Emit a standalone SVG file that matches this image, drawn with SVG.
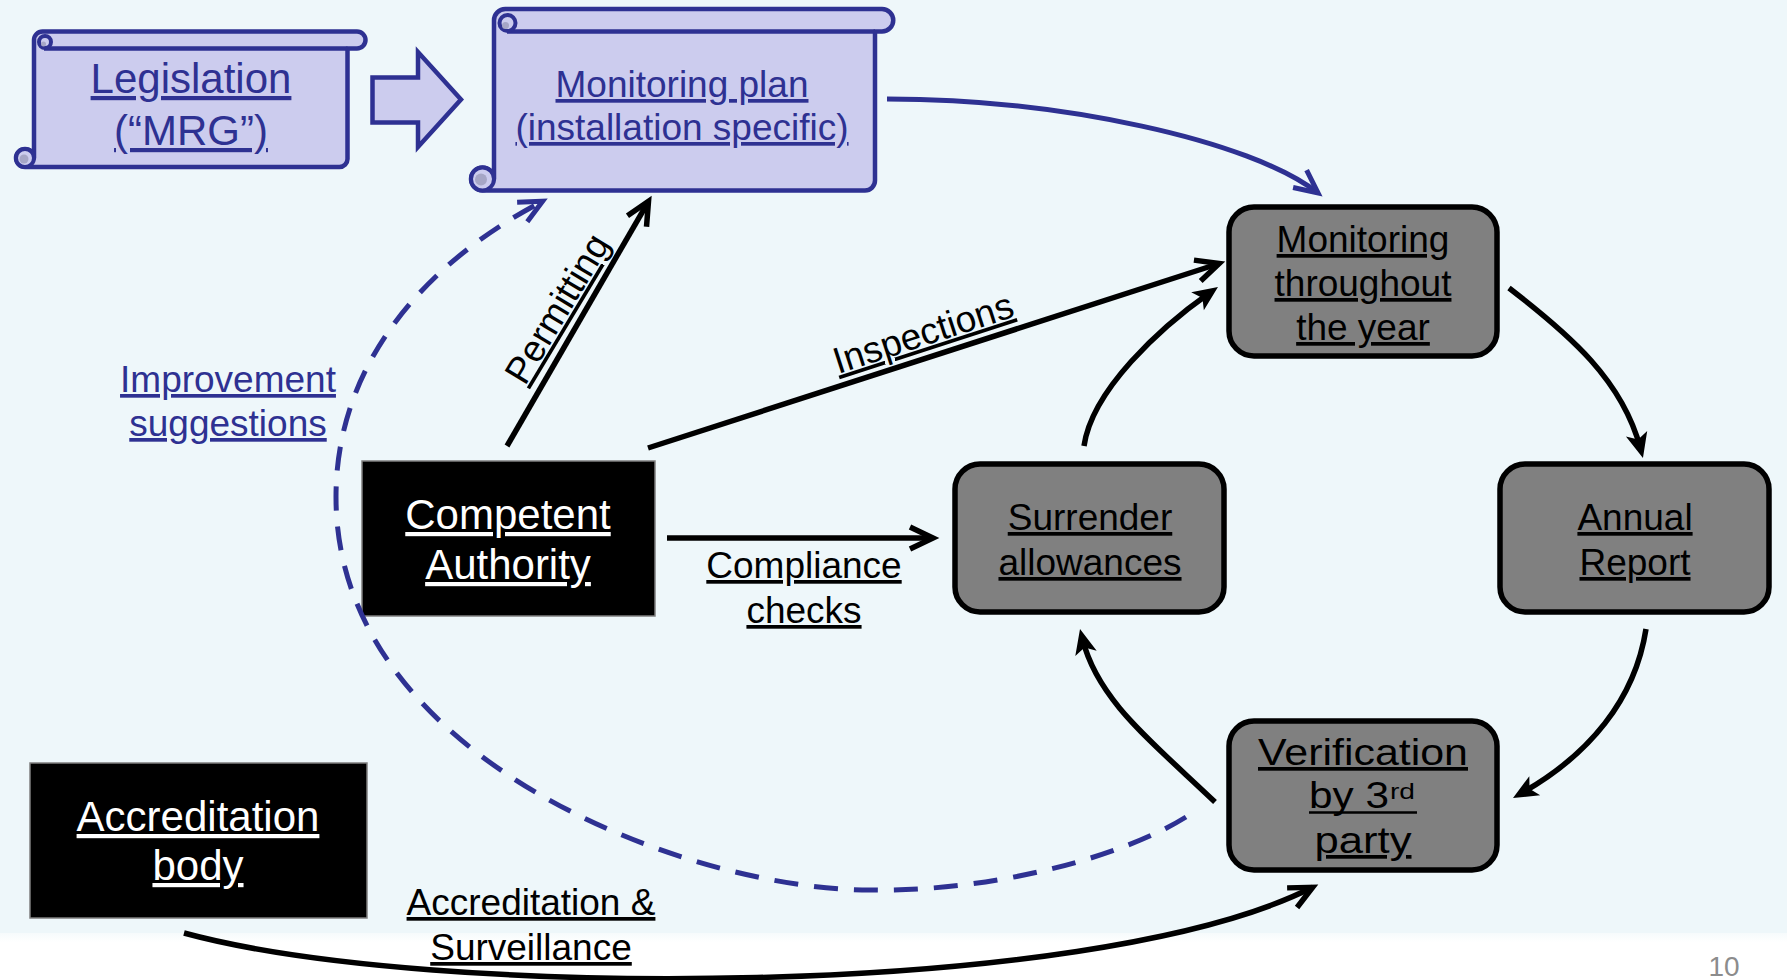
<svg xmlns="http://www.w3.org/2000/svg" width="1787" height="980" viewBox="0 0 1787 980">
<defs>
<style>
.t{font-family:"Liberation Sans",Arial,sans-serif;text-anchor:middle;text-decoration:underline;text-decoration-skip-ink:none}
.s37{font-size:37px}
.s42{font-size:42px}
.blue{fill:#2E3192}
.blk{fill:#000}
.wht{fill:#fff}
.scroll{fill:#CCCCEE;stroke:#2E3192;stroke-width:4.5;stroke-linejoin:round}
.curl{fill:#CCCCEE;stroke:#2E3192;stroke-width:4}
.curlin{fill:#A6A6C6}
.gbox{fill:#808080;stroke:#000;stroke-width:5.5}
.kbox{fill:#000;stroke:#7F7F7F;stroke-width:1.5}
.lnk{fill:none;stroke:#000;stroke-width:5.5}
.lnb{fill:none;stroke:#2E3192;stroke-width:5}
</style>
<linearGradient id="foot" x1="0" y1="0" x2="0" y2="1">
<stop offset="0" stop-color="#F6FBFC"/>
<stop offset="0.2" stop-color="#FFFFFF"/>
<stop offset="1" stop-color="#FFFFFF"/>
</linearGradient>
<marker id="chevK" markerUnits="userSpaceOnUse" orient="auto" viewBox="-40 -20 50 40" markerWidth="50" markerHeight="40" refX="0" refY="0" overflow="visible">
<path d="M-23,-11 L0,0 L-23,11" fill="none" stroke="#000" stroke-width="5.5" stroke-linejoin="miter"/>
</marker>
<marker id="chevB" markerUnits="userSpaceOnUse" orient="auto" viewBox="-40 -20 50 40" markerWidth="50" markerHeight="40" refX="0" refY="0" overflow="visible">
<path d="M-23,-11 L0,0 L-23,11" fill="none" stroke="#2E3192" stroke-width="5" stroke-linejoin="miter" stroke-dasharray="none"/>
</marker>
<marker id="stealth" markerUnits="userSpaceOnUse" orient="auto" viewBox="-30 -15 36 30" markerWidth="36" markerHeight="30" refX="-10" refY="0" overflow="visible">
<path d="M0,0 L-25,-11 L-19,0 L-25,11 Z" fill="#000"/>
</marker>
</defs>

<rect x="0" y="0" width="1787" height="933" fill="#EEF7FA"/>
<rect x="0" y="933" width="1787" height="47" fill="url(#foot)"/>

<g id="legislation">
<path class="scroll" d="M34,40 A8.5,8.5 0 0 1 42.5,31.5 L357,31.5 A8.5,8.5 0 0 1 357,48.5 L347.5,48.5 L347.5,159 A8,8 0 0 1 339.5,167 L25,167 A9,9 0 1 1 34,158 Z"/>
<line x1="44" y1="48.5" x2="347.5" y2="48.5" stroke="#2E3192" stroke-width="4.5"/>
<circle class="curl" cx="45" cy="42" r="6"/>
<circle class="curlin" cx="43.5" cy="44" r="2.5"/>
<circle class="curl" cx="25" cy="158" r="9"/>
<circle class="curlin" cx="24" cy="159" r="4.5"/>
<text class="t s42 blue" x="191" y="93">Legislation</text>
<text class="t s42 blue" x="191" y="145">(“MRG”)</text>
</g>

<g id="block-arrow">
<polygon points="372.5,77.5 418,77.5 418,52 461,99.5 418,147 418,122.5 372.5,122.5" fill="#CCCCEE" stroke="#2E3192" stroke-width="4.5" stroke-linejoin="miter"/>
</g>

<g id="monitoring-plan">
<path class="scroll" d="M494,20.25 A11.25,11.25 0 0 1 505.25,9 L882,9 A11.25,11.25 0 0 1 882,31.5 L875,31.5 L875,180.5 A10,10 0 0 1 865,190.5 L482.5,190.5 A11.5,11.5 0 1 1 494,179 Z"/>
<line x1="507" y1="31.5" x2="875" y2="31.5" stroke="#2E3192" stroke-width="4.5"/>
<circle class="curl" cx="507.5" cy="23" r="8"/>
<circle class="curlin" cx="505.5" cy="25.5" r="3.5"/>
<circle class="curl" cx="482.5" cy="179" r="11.5"/>
<circle class="curlin" cx="481" cy="179.5" r="6"/>
<text class="t s37 blue" x="682" y="97">Monitoring plan</text>
<text class="t s37 blue" x="682" y="140">(installation specific)</text>
</g>

<g id="monitoring-year">
<rect class="gbox" x="1229" y="207" width="268" height="149" rx="25"/>
<text class="t s37 blk" x="1363" y="252">Monitoring</text>
<text class="t s37 blk" x="1363" y="296">throughout</text>
<text class="t s37 blk" x="1363" y="340">the year</text>
</g>

<g id="annual-report">
<rect class="gbox" x="1500" y="464" width="269" height="148" rx="25"/>
<text class="t s37 blk" x="1635" y="530">Annual</text>
<text class="t s37 blk" x="1635" y="575">Report</text>
</g>

<g id="surrender">
<rect class="gbox" x="955" y="464" width="269" height="148" rx="25"/>
<text class="t s37 blk" x="1090" y="530">Surrender</text>
<text class="t s37 blk" x="1090" y="575">allowances</text>
</g>

<g id="verification">
<rect class="gbox" x="1229" y="721" width="268" height="149" rx="25"/>
<text class="t s37 blk" x="1363" y="765" textLength="210" lengthAdjust="spacingAndGlyphs">Verification</text>
<text x="1309" y="808" font-family="Liberation Sans, Arial, sans-serif" font-size="37" fill="#000" textLength="80" lengthAdjust="spacingAndGlyphs">by 3</text>
<text x="1390" y="799" font-family="Liberation Sans, Arial, sans-serif" font-size="22" fill="#000" textLength="25" lengthAdjust="spacingAndGlyphs">rd</text>
<line x1="1309" y1="812.5" x2="1417" y2="812.5" stroke="#000" stroke-width="2.7"/>
<text class="t s37 blk" x="1363" y="853" textLength="97" lengthAdjust="spacingAndGlyphs">party</text>
</g>

<g id="competent-authority">
<rect class="kbox" x="362" y="461" width="293" height="155"/>
<text class="t s42 wht" x="508" y="529">Competent</text>
<text class="t s42 wht" x="508" y="579">Authority</text>
</g>

<g id="accreditation-body">
<rect class="kbox" x="30" y="763" width="337" height="155"/>
<text class="t s42 wht" x="198" y="831">Accreditation</text>
<text class="t s42 wht" x="198" y="880">body</text>
</g>

<g id="connectors">
<path class="lnb" d="M887,99 C1060,99 1250,140 1318,193" marker-end="url(#chevB)"/>
<path class="lnb" d="M1186,817 C1120,858 990,892 870,890 C690,890 336,760 336,497 C336,360 430,260 542.6,201.3" stroke-width="5.5" stroke-dasharray="24 16" marker-end="url(#chevB)"/>
<path class="lnk" d="M507,446 L648.5,201.3" marker-end="url(#chevK)"/>
<path class="lnk" d="M648,448 L1219.2,263.5" marker-end="url(#chevK)"/>
<path class="lnk" d="M667,538 L933,538" marker-end="url(#chevK)"/>
<path class="lnk" d="M184,933 C430,1000 1090,1000 1312.6,887.3" marker-end="url(#chevK)"/>
<path class="lnk" d="M1084,446 C1092,390 1160,327.7 1209.8,292.7" marker-end="url(#stealth)"/>
<path class="lnk" d="M1509,288 C1570,335 1622.4,380.3 1640.4,448.3" marker-end="url(#stealth)"/>
<path class="lnk" d="M1646,629 C1635,700 1588.7,755.1 1521.7,793.1" marker-end="url(#stealth)"/>
<path class="lnk" d="M1215,802 C1150,740 1097.4,699.7 1082.4,638.7" marker-end="url(#stealth)"/>
</g>

<g id="labels">
<text class="t s37 blue" x="228" y="392">Improvement</text>
<text class="t s37 blue" x="228" y="436">suggestions</text>
<text class="t s37 blk" transform="translate(568,315) rotate(-59)">Permitting</text>
<text class="t s37 blk" transform="translate(927,345) rotate(-18)">Inspections</text>
<text class="t s37 blk" x="804" y="578">Compliance</text>
<text class="t s37 blk" x="804" y="623">checks</text>
<text class="t s37 blk" x="531" y="915">Accreditation &amp;</text>
<text class="t s37 blk" x="531" y="960">Surveillance</text>
</g>

<text x="1724" y="976" font-family="Liberation Sans, Arial, sans-serif" font-size="28" fill="#8C8C8C" text-anchor="middle">10</text>
</svg>
